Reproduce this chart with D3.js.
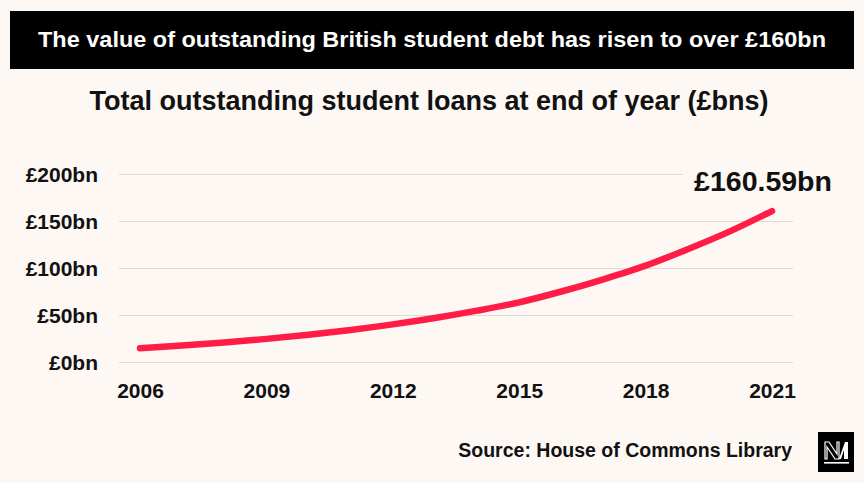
<!DOCTYPE html>
<html>
<head>
<meta charset="utf-8">
<script src="https://cdn.jsdelivr.net/npm/d3@7"></script>
<style>
  html, body { margin: 0; padding: 0; background: #fdf8f4; }
  svg { display: block; font-family: "Liberation Sans", Arial, Helvetica, sans-serif; font-weight: bold; }
</style>
</head>
<body>
<svg id="chart" width="864" height="483"></svg>
<script>
const years = [2006, 2007, 2008, 2009, 2010, 2011, 2012, 2013, 2014, 2015, 2016, 2017, 2018, 2019, 2020, 2021];
const loans = [14.6, 17.5, 20.8, 24.6, 29.0, 34.1, 40.0, 46.8, 54.6, 63.5, 75.0, 88.0, 102.5, 120.0, 139.0, 160.59];
const yTicks = [0, 50, 100, 150, 200];
const xTicks = [2006, 2009, 2012, 2015, 2018, 2021];
const headline = "The value of outstanding British student debt has risen to over £160bn";
const subtitle = "Total outstanding student loans at end of year (£bns)";
const source = "Source: House of Commons Library";
const endLabel = "£160.59bn";

const svg = d3.select("#chart");
const W = 864, H = 483;
svg.append("rect").attr("width", W).attr("height", H).attr("fill", "#fdf8f4");

// header box
svg.append("rect").attr("x", 10).attr("y", 11).attr("width", 844).attr("height", 58).attr("fill", "#000");
svg.append("text").attr("x", 432).attr("y", 47).attr("text-anchor", "middle")
  .attr("fill", "#fff").attr("font-size", 22)
  .attr("textLength", 788).attr("lengthAdjust", "spacingAndGlyphs").text(headline);

svg.append("text").attr("x", 429).attr("y", 110).attr("text-anchor", "middle")
  .attr("fill", "#111").attr("font-size", 27).text(subtitle);

const x = d3.scaleLinear().domain([2006, 2021]).range([140, 772]);
const y = d3.scaleLinear().domain([0, 200]).range([362, 174]);

// gridlines
const grid = svg.append("g");
grid.selectAll("line").data(yTicks).join("line")
  .attr("x1", 119).attr("x2", 793)
  .attr("y1", d => Math.round(y(d)) + 0.5).attr("y2", d => Math.round(y(d)) + 0.5)
  .attr("stroke", "#dddad6").attr("stroke-width", 1.2);

// y axis labels
const yAxis = d3.axisLeft(y).tickValues(yTicks).tickSize(0).tickPadding(0)
  .tickFormat(d => "£" + d + "bn");
const yg = svg.append("g").attr("transform", "translate(98,0)").call(yAxis);
yg.select(".domain").remove();
yg.selectAll("text").attr("font-size", 21).attr("font-family", null).attr("fill", "#111")
  .attr("dy", "0.36em");

// x axis labels
const xAxis = d3.axisBottom(x).tickValues(xTicks).tickSize(0).tickPadding(0)
  .tickFormat(d3.format("d"));
const xg = svg.append("g").attr("transform", "translate(0,382)").call(xAxis);
xg.select(".domain").remove();
xg.selectAll("text").attr("font-size", 21).attr("font-family", null).attr("fill", "#111")
  .attr("dy", "0.75em");

// line
const data = years.map((yr, i) => ({ yr, v: loans[i] }));
const line = d3.line().x(d => x(d.yr)).y(d => y(d.v)).curve(d3.curveMonotoneX);
svg.append("path").datum(data).attr("d", line)
  .attr("fill", "none").attr("stroke", "#ff1d48").attr("stroke-width", 6.5)
  .attr("stroke-linecap", "round").attr("stroke-linejoin", "round");

// end label with background
const last = data[data.length - 1];
svg.append("rect").attr("x", 683).attr("y", 165).attr("width", 160).attr("height", 32).attr("fill", "#fdf8f4");
svg.append("text").attr("x", 763).attr("y", 191).attr("text-anchor", "middle")
  .attr("font-size", 28.5).attr("fill", "#111").text(endLabel);

// source
svg.append("text").attr("x", 792).attr("y", 457).attr("text-anchor", "end")
  .attr("font-size", 19.5).attr("fill", "#111").text(source);

// logo
const logo = svg.append("g").attr("transform", "translate(818,432)");
logo.append("rect").attr("width", 36).attr("height", 40).attr("fill", "#000");
logo.append("path").attr("d", "M7,10 L11,10 L19,22 L19,10 L21,10 L21,27 L17,27 L9,15 L9,27 L7,27 Z")
  .attr("fill", "none").attr("stroke", "#fff").attr("stroke-width", 1.2);
logo.append("path").attr("d", "M21,27 L27,10 L30,10 L30,27 L26,27 L26,18 L23,27 Z").attr("fill", "#fff");
logo.append("rect").attr("x", 6).attr("y", 30).attr("width", 25).attr("height", 1.6).attr("fill", "#fff");
</script>
</body>
</html>
